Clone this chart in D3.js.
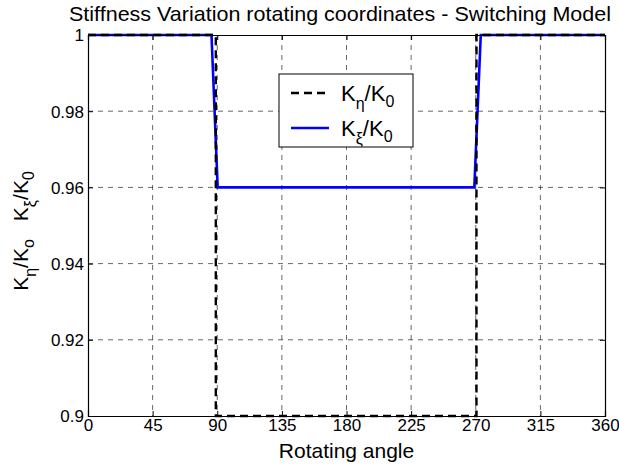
<!DOCTYPE html>
<html><head><meta charset="utf-8">
<script src="https://cdn.jsdelivr.net/npm/d3@7"></script>
<style>body{margin:0;background:#fff}svg{display:block}text{font-family:"Liberation Sans",Arial,sans-serif}</style>
</head><body>
<svg id="c" width="619" height="466"></svg>
<script>
const xTicks = [0,45,90,135,180,225,270,315,360];
const yTicks = [0.9,0.92,0.94,0.96,0.98,1];
const etaAngle = [0,89,89,270.5,270.5,360];
const etaValue = [1,1,0.9,0.9,1,1];
const xiAngle = [0,86,90.3,269,273.5,360];
const xiValue = [1,1,0.96,0.96,1,1];

const svg = d3.select("#c");
const L=88,R=605,T=35,B=416;
const x = d3.scaleLinear().domain([0,360]).range([L,R]);
const y = d3.scaleLinear().domain([0.9,1]).range([B,T]);

// grid
const g = svg.append("g");
g.selectAll(".gx").data(xTicks.slice(1,-1)).join("line")
 .attr("x1",d=>x(d)).attr("x2",d=>x(d)).attr("y1",T).attr("y2",B)
 .attr("stroke","#000").attr("stroke-width",0.6).attr("stroke-dasharray","5,5");
g.selectAll(".gy").data(yTicks.slice(1,-1)).join("line")
 .attr("y1",d=>y(d)).attr("y2",d=>y(d)).attr("x1",L).attr("x2",R)
 .attr("stroke","#000").attr("stroke-width",0.6).attr("stroke-dasharray","5,5");

const line = d3.line().x(d=>x(d[0])).y(d=>y(d[1]));
svg.append("path").datum(xiAngle.map((a,i)=>[a,xiValue[i]]))
 .attr("d",line).attr("fill","none").attr("stroke","#0000ff").attr("stroke-width",2.6);
svg.append("path").datum(etaAngle.map((a,i)=>[a,etaValue[i]]))
 .attr("d",line).attr("fill","none").attr("stroke","#000").attr("stroke-width",2.4).attr("stroke-dasharray","8,5");

// axes
const fs = 17;
const ax = svg.append("g").attr("transform",`translate(0,${B})`)
 .call(d3.axisBottom(x).tickValues(xTicks).tickSize(-5).tickPadding(3));
const ax2 = svg.append("g").attr("transform",`translate(0,${T})`)
 .call(d3.axisTop(x).tickValues(xTicks).tickSize(-5).tickFormat(""));
const ay = svg.append("g").attr("transform",`translate(${L},0)`)
 .call(d3.axisLeft(y).tickValues(yTicks).tickSize(-5).tickPadding(4).tickFormat(d=>d3.format("")(+d.toFixed(2))));
const ay2 = svg.append("g").attr("transform",`translate(${R},0)`)
 .call(d3.axisRight(y).tickValues(yTicks).tickSize(-5).tickFormat(""));
[ax,ax2,ay,ay2].forEach(a=>{
  a.attr("font-size",fs).attr("font-family",null);
  a.selectAll(".domain").attr("stroke","#000").attr("stroke-width",1.2);
  a.selectAll(".tick line").attr("stroke","#000");
  a.selectAll("text").attr("font-size",fs).attr("fill","#000");
});
ax.selectAll("text").attr("dy","0.72em");
ay.selectAll("text").attr("dy","0.35em");

// title
svg.append("text").attr("x",69).attr("y",21).attr("text-anchor","start")
 .attr("font-size",21).attr("textLength",542).attr("lengthAdjust","spacingAndGlyphs")
 .text("Stiffness Variation rotating coordinates - Switching Model");
// x label
svg.append("text").attr("x",(L+R)/2).attr("y",458).attr("text-anchor","middle")
 .attr("font-size",21).text("Rotating angle");
// y label
const yl = svg.append("text").attr("transform","translate(28,231) rotate(-90)").attr("text-anchor","middle").attr("font-size",21);
yl.append("tspan").text("K");
yl.append("tspan").attr("font-size",16).attr("dy",8).text("η");
yl.append("tspan").attr("dy",-8).text("/K");
yl.append("tspan").attr("font-size",16).attr("dy",6).text("o");
yl.append("tspan").attr("dy",-6).attr("dx",18).text("K");
yl.append("tspan").attr("font-size",16).attr("dy",8).text("ξ");
yl.append("tspan").attr("dy",-8).text("/K");
yl.append("tspan").attr("font-size",16).attr("dy",6).text("0");

// legend
const lg = svg.append("g");
lg.append("rect").attr("x",279).attr("y",74).attr("width",134).attr("height",73)
 .attr("fill","#fff").attr("stroke","#000").attr("stroke-width",1);
const items = [{dash:"8,5",color:"#000",w:2.4,sub:"η",yy:93},{dash:null,color:"#0000ff",w:2.6,sub:"ξ",yy:128}];
items.forEach(it=>{
  lg.append("line").attr("x1",291).attr("x2",329).attr("y1",it.yy).attr("y2",it.yy)
   .attr("stroke",it.color).attr("stroke-width",it.w).attr("stroke-dasharray",it.dash);
  const t = lg.append("text").attr("x",341).attr("y",it.yy+8).attr("font-size",22);
  t.append("tspan").text("K");
  t.append("tspan").attr("font-size",16).attr("dy",8).text(it.sub);
  t.append("tspan").attr("dy",-8).text("/K");
  t.append("tspan").attr("font-size",16).attr("dy",6).text("0");
});
</script>
</body></html>
